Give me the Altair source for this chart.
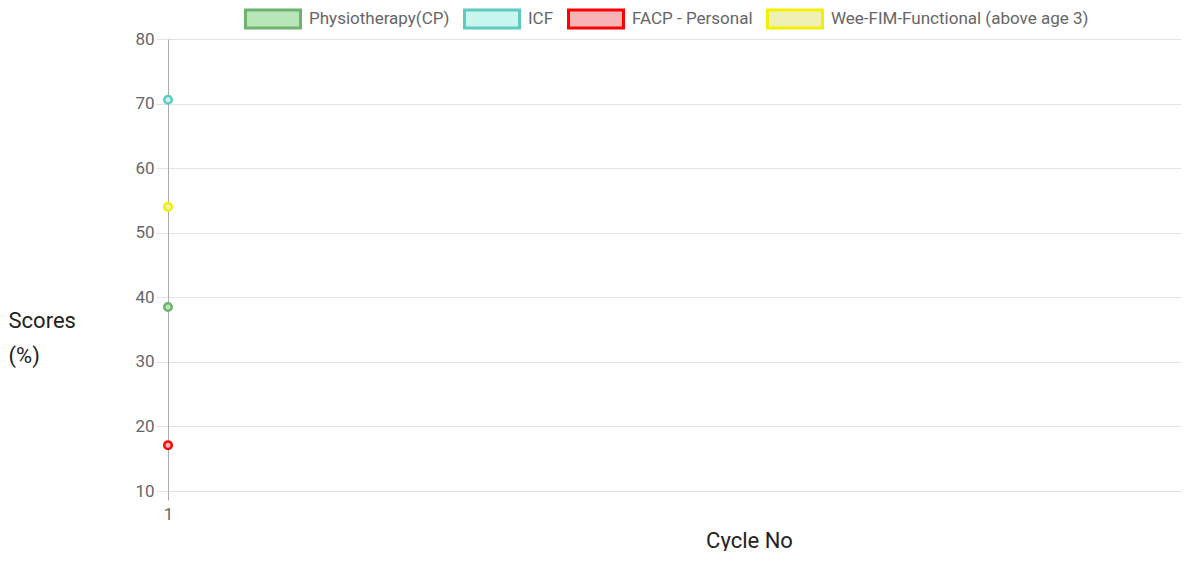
import altair as alt
import pandas as pd

series = ["Physiotherapy(CP)", "ICF", "FACP - Personal", "Wee-FIM-Functional (above age 3)"]
cycles = ["1", "1", "1", "1"]
scores = [38.5, 70.6, 17.1, 54.0]
stroke_colors = ["#6db36d", "#5fcac0", "#ff0000", "#f0f000"]
fill_colors = ["#b8e6b8", "#c8f6ef", "#f8b4b4", "#eef0b4"]

df = pd.DataFrame({"series": series, "cycle": cycles, "score": scores})

rect_path = "M-1,-0.327L1,-0.327L1,0.327L-1,0.327Z"
legend_def = alt.Legend(
    title=None,
    orient="none",
    direction="horizontal",
    legendX=76,
    legendY=-49,
    symbolType=rect_path,
    symbolSize=3025,
    symbolStrokeWidth=3,
    labelFont="Roboto",
    labelFontSize=17,
    labelColor="#666666",
    labelOffset=7,
    labelLimit=500,
    columnPadding=8,
    padding=0,
)

chart = alt.Chart(df).mark_point(shape="circle", filled=False, size=57, strokeWidth=2.5, opacity=1).encode(
    x=alt.X(
        "cycle:O",
        scale=alt.Scale(type="point", padding=0, align=0),
        axis=alt.Axis(
            title="Cycle No",
            labelAngle=0,
            grid=False,
            domain=True,
            domainColor="#e0e0e0",
            tickColor="#aaaaaa",
            tickSize=9,
            labelFont="Roboto",
            labelFontSize=17,
            labelColor="#666666",
            labelPadding=6,
            titleFont="Roboto",
            titleFontSize=22,
            titleFontWeight="normal",
            titleColor="#222222",
            titleX=581,
            titleY=56,
            titleBaseline="alphabetic",
        ),
    ),
    y=alt.Y(
        "score:Q",
        scale=alt.Scale(domain=[10, 80], nice=False, zero=False),
        axis=alt.Axis(
            title=["Scores", "(%)"],
            values=[10, 20, 30, 40, 50, 60, 70, 80],
            grid=True,
            gridColor="#e2e2e2",
            domain=True,
            domainColor="#aaaaaa",
            tickColor="#e2e2e2",
            tickSize=12,
            labelFont="Roboto",
            labelFontSize=17,
            labelColor="#666666",
            labelPadding=2,
            titleFont="Roboto",
            titleFontSize=22,
            titleFontWeight="normal",
            titleColor="#222222",
            titleAngle=0,
            titleAlign="left",
            titleBaseline="alphabetic",
            titleX=-160,
            titleY=288,
            titleLineHeight=35,
        ),
    ),
    stroke=alt.Stroke("series:N", scale=alt.Scale(domain=series, range=stroke_colors), legend=legend_def),
    fill=alt.Fill("series:N", scale=alt.Scale(domain=series, range=fill_colors), legend=legend_def),
).properties(
    width=1013,
    height=452,
    autosize=alt.AutoSizeParams(type="none"),
    padding={"left": 160, "top": 31, "right": 0, "bottom": 60},
).configure_view(stroke=None)

chart.save("out.html", embed_options={"renderer": "svg", "actions": False})
